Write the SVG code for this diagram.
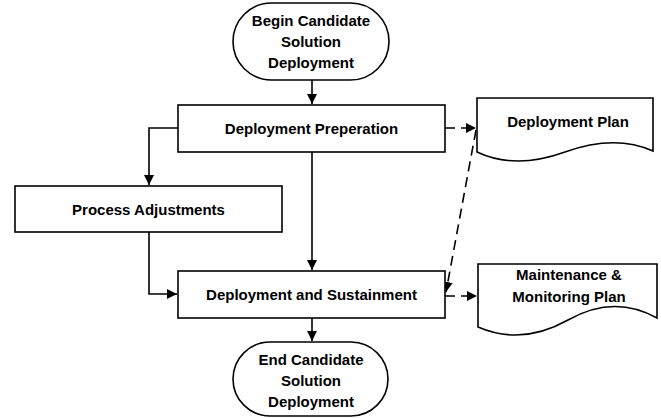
<svg xmlns="http://www.w3.org/2000/svg" width="661" height="418" viewBox="0 0 661 418">
  <style>
    .shape { fill: #ffffff; stroke: #000000; stroke-width: 1.6; }
    .label { font-family: "Liberation Sans", Arial, sans-serif; font-weight: bold; font-size: 15px; fill: #000000; text-anchor: middle; }
    .flow { fill: none; stroke: #000000; stroke-width: 1.6; }
    .dash { stroke-dasharray: 10 6; }
  </style>
  <defs>
    <marker id="arrow" viewBox="0 0 10 10" refX="10" refY="5" markerWidth="10" markerHeight="10" markerUnits="userSpaceOnUse" orient="auto">
      <path d="M0,0 L10,5 L0,10 Z" fill="#000000"/>
    </marker>
  </defs>

  <!-- connectors -->
  <g id="connectors">
    <path class="flow" d="M312,80 L312,104" marker-end="url(#arrow)"/>
    <path class="flow" d="M178,128 L149,128 L149,185" marker-end="url(#arrow)"/>
    <path class="flow" d="M312,152 L312,270" marker-end="url(#arrow)"/>
    <path class="flow" d="M149,232 L149,294 L177,294" marker-end="url(#arrow)"/>
    <path class="flow" d="M312,318 L312,341" marker-end="url(#arrow)"/>
    <path class="flow dash" d="M445,128 L476,128" marker-end="url(#arrow)"/>
    <path class="flow dash" d="M445,296 L477,296" marker-end="url(#arrow)"/>
    <path class="flow dash" d="M476,130 L446,292" marker-end="url(#arrow)"/>
  </g>

  <g id="begin">
    <rect class="shape" x="233" y="3" width="156" height="77" rx="38.5" ry="38.5"/>
    <text class="label" x="311" y="26">Begin Candidate</text>
    <text class="label" x="311" y="47">Solution</text>
    <text class="label" x="311" y="68">Deployment</text>
  </g>

  <g id="deployment-preparation">
    <rect class="shape" x="178" y="105" width="267" height="47"/>
    <text class="label" x="311.5" y="134">Deployment Preperation</text>
  </g>

  <g id="deployment-plan">
    <path class="shape" d="M477,98 L653,98 L653,151 Q615,134 565,152 T477,152 Z"/>
    <text class="label" x="568" y="127">Deployment Plan</text>
  </g>

  <g id="process-adjustments">
    <rect class="shape" x="15" y="186" width="267" height="46"/>
    <text class="label" x="148.5" y="215">Process Adjustments</text>
  </g>

  <g id="deployment-sustainment">
    <rect class="shape" x="178" y="271" width="267" height="47"/>
    <text class="label" x="311.5" y="300">Deployment and Sustainment</text>
  </g>

  <g id="maintenance-plan">
    <path class="shape" d="M478,264 L657,264 L657,318 Q614,294 568,320 T478,327 Z"/>
    <text class="label" x="569" y="280">Maintenance &amp;</text>
    <text class="label" x="569" y="302">Monitoring Plan</text>
  </g>

  <g id="end">
    <rect class="shape" x="233" y="342" width="155" height="74" rx="37" ry="37"/>
    <text class="label" x="311" y="365">End Candidate</text>
    <text class="label" x="311" y="386">Solution</text>
    <text class="label" x="311" y="407">Deployment</text>
  </g>
</svg>
